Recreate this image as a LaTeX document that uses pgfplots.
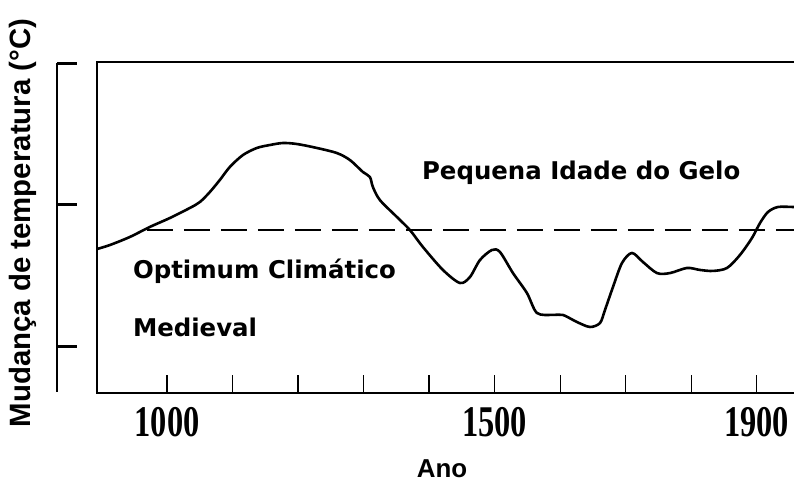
\documentclass[border=0pt]{standalone}
\usepackage{fontspec}
\usepackage{pgfplots}
\pgfplotsset{compat=1.18}
\setmainfont{Liberation Sans}
\newfontfamily\tickfont[FakeStretch=0.74]{Liberation Serif}
\newfontfamily\annfont{DejaVu Sans}
\begin{document}
\begin{tikzpicture}
\path[use as bounding box] (0,0) rectangle (794bp,484bp);
% separate temperature scale at the far left
\begin{axis}[
  at={(57bp,92bp)}, anchor=south west, scale only axis,
  width=10bp, height=328.5bp,
  xmin=0, xmax=1, ymin=-1.3216, ymax=1,
  hide x axis, axis y line*=left,
  ytick={-1,0,1}, yticklabels={},
  ytick align=inside, major tick length=20bp,
  y axis line style={line width=1.6bp},
  every tick/.style={black, line width=3bp},
]
\addplot[draw=none] coordinates {(0.5,0)};
\end{axis}
% main chart
\begin{axis}[
  at={(97bp,91bp)}, anchor=south west, scale only axis,
  width=703bp, height=331bp,
  xmin=893, xmax=1966, ymin=-1.3286, ymax=1.0106,
  axis line style={line width=2.4bp},
  xtick={1000,1100,...,1900},
  xticklabels={1000,{},{},{},{},1500,{},{},{},1900},
  xtick pos=left, xtick align=inside, major tick length=18bp,
  ytick=\empty,
  every tick/.style={black, line width=1.4bp},
  xticklabel style={font=\tickfont\bfseries\fontsize{44}{44}\selectfont, inner sep=0pt, yshift=-14bp},
  xlabel={Ano}, ylabel={Mudança de temperatura (°C)},
  xlabel style={at={(axis description cs:0.4908,-0.2296)}, anchor=center, font=\bfseries\fontsize{26}{26}\selectfont},
  ylabel style={at={(axis description cs:-0.1053,0.5136)}, anchor=center, font=\bfseries\fontsize{29.5}{29.5}\selectfont},
]
\addplot[black, line width=2bp, dash pattern=on 26bp off 11bp] coordinates {(969,-0.177) (1966,-0.177)};
\addplot[black, line width=2.6bp, smooth, tension=0.5] coordinates {
(893,-0.311) (912.6,-0.283) (943.1,-0.226) (973.7,-0.155) (1004.2,-0.092)
(1034.7,-0.021) (1050,0.021) (1065.3,0.092) (1080.5,0.177) (1095.8,0.269)
(1115.7,0.353) (1137,0.403) (1156.9,0.424) (1176.7,0.438) (1198.1,0.431)
(1228.6,0.403) (1259.2,0.367) (1279,0.318) (1298.9,0.233) (1309.5,0.198)
(1314.1,0.127) (1324.8,0.035) (1350.8,-0.085) (1370.6,-0.177) (1390.5,-0.297)
(1421,-0.459) (1446.9,-0.551) (1462.2,-0.509) (1477.5,-0.389) (1495.8,-0.318)
(1508,-0.332) (1527.9,-0.481) (1549.2,-0.622) (1564.5,-0.763) (1588.9,-0.777)
(1604.2,-0.777) (1625.6,-0.827) (1645.4,-0.862) (1660.7,-0.834) (1668.3,-0.742)
(1680.5,-0.580) (1694.3,-0.410) (1709.5,-0.339) (1726.3,-0.403) (1747.7,-0.481)
(1767.6,-0.481) (1793.5,-0.445) (1813.4,-0.459) (1833.2,-0.466) (1854.6,-0.445)
(1874.4,-0.353) (1892.7,-0.233) (1905,-0.127) (1917.2,-0.049) (1932.4,-0.014)
(1955.3,-0.014) (1966,-0.014)
};
\node[anchor=base west, inner sep=0pt, font=\annfont\bfseries\fontsize{24.5}{24.5}\selectfont] at (axis cs:1388.9,0.177) {Pequena Idade do Gelo};
\node[anchor=base west, inner sep=0pt, font=\annfont\bfseries\fontsize{24.5}{24.5}\selectfont] at (axis cs:947.7,-0.516) {Optimum Climático};
\node[anchor=base west, inner sep=0pt, font=\annfont\bfseries\fontsize{24.5}{24.5}\selectfont] at (axis cs:947.7,-0.932) {Medieval};
\end{axis}
\end{tikzpicture}
\end{document}
